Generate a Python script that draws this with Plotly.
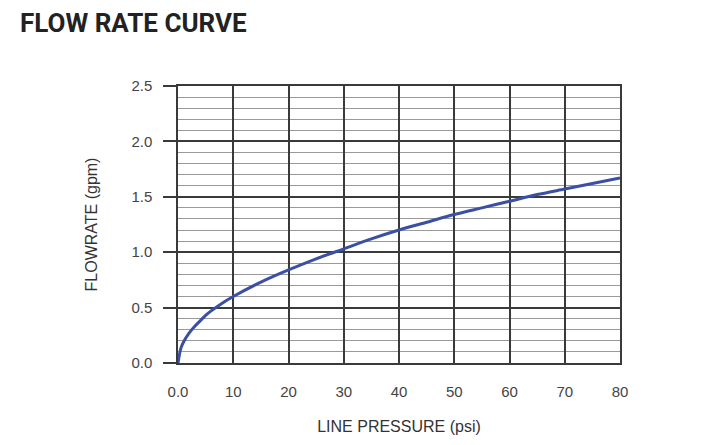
import plotly.graph_objects as go

pressure_psi = [0, 0.5, 1, 2, 3, 4, 5, 6, 8, 10, 15, 20, 25, 30, 35, 40, 45, 50, 55, 60, 65, 70, 75, 80]
flow_gpm = [0, 0.13, 0.19, 0.27, 0.33, 0.38, 0.43, 0.47, 0.54, 0.60, 0.73, 0.84, 0.94, 1.03, 1.12,
            1.20, 1.27, 1.34, 1.40, 1.46, 1.52, 1.57, 1.62, 1.67]

x_tick_vals = [0, 10, 20, 30, 40, 50, 60, 70, 80]
x_tick_text = ["0.0", "10", "20", "30", "40", "50", "60", "70", "80"]
y_tick_vals = [0, 0.5, 1.0, 1.5, 2.0, 2.5]
y_tick_text = ["0.0", "0.5", "1.0", "1.5", "2.0", "2.5"]

fig = go.Figure()
fig.add_trace(go.Scatter(
    x=pressure_psi, y=flow_gpm, mode="lines",
    line=dict(color="#3b4fa3", width=3, shape="spline", smoothing=0.8),
    hoverinfo="skip", showlegend=False,
))

fig.update_layout(
    width=693, height=437,
    margin=dict(l=170, r=81, t=78, b=82),
    paper_bgcolor="white", plot_bgcolor="white",
    title=dict(text="<b>FLOW RATE CURVE</b>", x=12 / 693, xanchor="left",
               y=1 - 15 / 437, yanchor="middle",
               font=dict(family="Roboto", size=26, color="#222222")),
    font=dict(family="Liberation Sans, Arial, sans-serif", color="#444444", size=15),
    xaxis=dict(
        range=[0, 80], tickvals=x_tick_vals, ticktext=x_tick_text,
        showgrid=True, gridcolor="#3a3a3a", gridwidth=1.5,
        zeroline=False, showline=True, mirror=True, linecolor="#3a3a3a", linewidth=1.5,
        ticks="", ticklabelstandoff=14,
        title=dict(text="LINE PRESSURE (psi)", standoff=22, font=dict(size=16, color="#333333")),
        tickfont=dict(size=15, color="#444444"), fixedrange=True,
    ),
    yaxis=dict(
        range=[0, 2.5], tickvals=y_tick_vals, ticktext=y_tick_text,
        showgrid=True, gridcolor="#3a3a3a", gridwidth=1.5,
        zeroline=False, showline=True, mirror=True, linecolor="#3a3a3a", linewidth=1.5,
        ticks="outside", ticklen=13, tickcolor="#3a3a3a", tickwidth=1.5,
        ticklabelstandoff=8,
        minor=dict(dtick=0.1, showgrid=True, gridcolor="#9a9a9a", gridwidth=1, ticks=""),
        title=dict(text="FLOWRATE (gpm)", standoff=30, font=dict(size=16, color="#333333")),
        tickfont=dict(size=15, color="#444444"), fixedrange=True,
    ),
)

fig.write_html("out.html")
